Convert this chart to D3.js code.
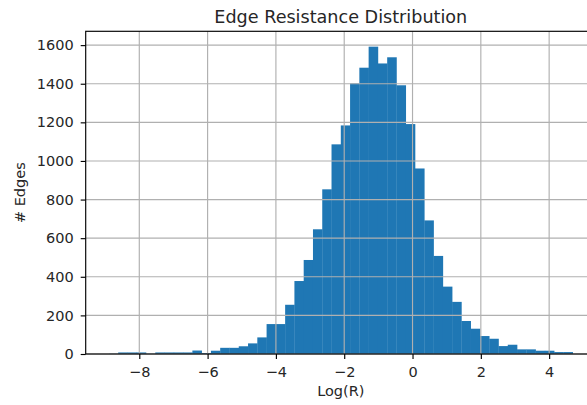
<!DOCTYPE html>
<html>
<head>
<meta charset="utf-8">
<script src="https://cdn.jsdelivr.net/npm/d3@7"></script>
<style>
  body { margin: 0; background: #fff; }
  text { font-family: "DejaVu Sans", sans-serif; fill: #262626; }
</style>
</head>
<body>
<div id="chart"></div>
<script>
// histogram: 50 equal-width bins of Log(R)
const binMin = -8.89;
const binMax = 4.69;
const counts = [
  1, 8, 8, 8, 1, 8, 8, 8, 8, 18,
  5, 17, 32, 32, 40, 55, 86, 155, 155, 255,
  378, 487, 646, 853, 1086, 1184, 1402, 1483, 1592, 1505,
  1537, 1392, 1191, 961, 692, 508, 349, 270, 171, 131,
  93, 79, 41, 48, 24, 24, 17, 17, 10, 10
];
const xTicks = [-8, -6, -4, -2, 0, 2, 4];
const yTicks = [0, 200, 400, 600, 800, 1000, 1200, 1400, 1600];

const binWidth = (binMax - binMin) / counts.length;
const bins = counts.map((c, i) => ({
  x0: binMin + i * binWidth,
  x1: binMin + (i + 1) * binWidth,
  count: c
}));

const W = 587, H = 405;
const margin = { top: 31.3, left: 85.7 };
const width = 510.2;   // axes runs past the right edge of the picture
const height = 322.7;

const svg = d3.select("#chart")
  .append("svg")
  .attr("width", W)
  .attr("height", H);

const g = svg.append("g")
  .attr("transform", `translate(${margin.left},${margin.top})`);

// matplotlib style 5% margins on x, 5% headroom on y
const pad = (binMax - binMin) * 0.05;
const x = d3.scaleLinear()
  .domain([binMin - pad, binMax + pad])
  .range([0, width]);

const y = d3.scaleLinear()
  .domain([0, d3.max(counts) * 1.05])
  .range([height, 0]);

// Bars
g.selectAll(".bar")
  .data(bins)
  .enter()
  .append("rect")
  .attr("class", "bar")
  .attr("x", d => x(d.x0))
  .attr("y", d => y(d.count))
  .attr("width", d => x(d.x1) - x(d.x0) + 0.3)
  .attr("height", d => y(0) - y(d.count))
  .attr("fill", "#1f77b4");

// Grid (pandas draws it over the bars)
g.selectAll(".vgrid")
  .data(xTicks)
  .enter()
  .append("line")
  .attr("x1", d => x(d))
  .attr("x2", d => x(d))
  .attr("y1", 0)
  .attr("y2", height)
  .attr("stroke", "#b0b0b0")
  .attr("stroke-width", 1.15);

g.selectAll(".hgrid")
  .data(yTicks)
  .enter()
  .append("line")
  .attr("x1", 0)
  .attr("x2", width)
  .attr("y1", d => y(d))
  .attr("y2", d => y(d))
  .attr("stroke", "#b0b0b0")
  .attr("stroke-width", 1.15);

// Axes
const xAxis = g.append("g")
  .attr("transform", `translate(0,${height})`)
  .call(d3.axisBottom(x).tickValues(xTicks).tickSize(5).tickPadding(7.5)
    .tickFormat(d => d < 0 ? "\u2212" + Math.abs(d) : d));

const yAxis = g.append("g")
  .call(d3.axisLeft(y).tickValues(yTicks).tickSize(5).tickPadding(7)
    .tickFormat(d3.format("d")));

[xAxis, yAxis].forEach(a => {
  a.select(".domain").remove();
  a.selectAll(".tick line").attr("stroke", "#000").attr("stroke-width", 1.15);
  a.selectAll(".tick text")
    .style("font-family", "DejaVu Sans, sans-serif")
    .style("font-size", "14.5px")
    .attr("fill", "#262626");
});

// Spines
g.append("rect")
  .attr("x", 0)
  .attr("y", 0)
  .attr("width", width)
  .attr("height", height)
  .attr("fill", "none")
  .attr("stroke", "#000")
  .attr("stroke-width", 1.15);

// Title and labels
svg.append("text")
  .attr("x", margin.left + width / 2)
  .attr("y", 23)
  .attr("text-anchor", "middle")
  .style("font-size", "17.6px")
  .text("Edge Resistance Distribution");

svg.append("text")
  .attr("x", margin.left + width / 2)
  .attr("y", 396)
  .attr("text-anchor", "middle")
  .style("font-size", "14.5px")
  .text("Log(R)");

svg.append("text")
  .attr("transform", `translate(25,${margin.top + height / 2}) rotate(-90)`)
  .attr("text-anchor", "middle")
  .style("font-size", "14.5px")
  .text("# Edges");
</script>
</body>
</html>
